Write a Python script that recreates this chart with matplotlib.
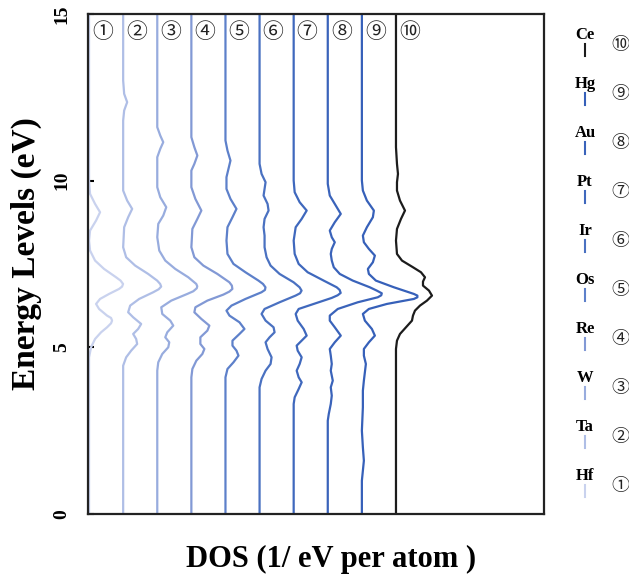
import matplotlib.pyplot as plt
from matplotlib.lines import Line2D

# metals, bottom-left curve first
elements = ['Hf', 'Ta', 'W', 'Re', 'Os', 'Ir', 'Pt', 'Au', 'Hg', 'Ce']
tags = ['①', '②', '③', '④', '⑤', '⑥', '⑦', '⑧', '⑨', '⑩']
colors = ['#c9d2ee', '#afbee6', '#98acde', '#8299d5', '#5d80ca',
          '#4a71c1', '#3f68bd', '#3a63ba', '#3660b9', '#1c1c1c']

# energy (eV) and DOS for each metal
e_hf = [15, 10.0, 9.6, 9.3, 9.05, 8.8, 8.5, 8.2, 7.9, 7.6, 7.35, 7.1, 7.0, 6.9,
        6.82, 6.75, 6.6, 6.45, 6.3, 6.15, 5.95, 5.88, 5.8, 5.72, 5.6, 5.45,
        5.25, 5.0, 4.7, 0]
d_hf = [0, 0, 0.1, 0.6, 1.1, 0.7, 0.1, 0, 0.1, 0.6, 1.5, 2.7, 3.15, 3.4,
        3.3, 3.0, 2.0, 1.1, 0.7, 1.0, 1.8, 2.2, 2.3, 2.2, 1.8, 1.2,
        0.6, 0.2, 0, 0]

e_ta = [15, 13.0, 12.6, 12.35, 12.1, 11.8, 9.7, 9.4, 9.15, 8.9, 8.6, 8.0, 7.7,
        7.45, 7.2, 7.0, 6.9, 6.82, 6.74, 6.65, 6.45, 6.25, 6.05, 5.9, 5.7,
        5.55, 5.4, 5.25, 5.1, 4.9, 4.7, 4.45, 0]
d_ta = [0, 0, 0.1, 0.4, 0.1, 0, 0, 0.4, 0.9, 0.5, 0.1, 0, 0.3,
        1.2, 2.5, 3.4, 3.7, 3.8, 3.55, 3.0, 1.6, 0.7, 0.5, 1.0, 1.8,
        1.5, 1.0, 1.3, 1.4, 0.8, 0.3, 0, 0]

e_w = [15, 11.6, 11.35, 11.15, 10.95, 10.7, 9.8, 9.5, 9.2, 8.95, 8.7, 8.3, 7.9,
       7.6, 7.35, 7.1, 6.9, 6.83, 6.77, 6.68, 6.6, 6.4, 6.2, 6.0, 5.8, 5.65,
       5.45, 5.3, 5.15, 5.0, 4.8, 4.55, 4.3, 0]
d_w = [0, 0, 0.3, 0.6, 0.3, 0, 0, 0.3, 0.9, 0.6, 0.1, 0, 0.2,
       0.8, 1.8, 3.1, 3.9, 4.0, 3.95, 3.6, 3.0, 1.4, 0.4, 0.5, 1.3, 1.6,
       1.0, 0.8, 1.2, 1.1, 0.5, 0.1, 0, 0]

e_re = [15, 11.3, 11.0, 10.75, 10.5, 10.3, 9.8, 9.45, 9.1, 8.85, 8.55, 8.0,
        7.7, 7.45, 7.2, 6.95, 6.85, 6.75, 6.67, 6.58, 6.4, 6.2, 6.05, 5.85,
        5.65, 5.5, 5.3, 5.1, 4.95, 4.8, 4.6, 4.35, 4.1, 0]
d_re = [0, 0, 0.3, 0.6, 0.3, 0, 0, 0.4, 1.0, 0.6, 0.1, 0,
        0.3, 1.2, 2.6, 3.8, 4.05, 4.1, 3.8, 3.2, 1.6, 0.4, 0.3, 1.0,
        1.8, 1.6, 0.9, 0.9, 1.3, 1.1, 0.5, 0.1, 0, 0]

e_os = [15, 11.2, 10.9, 10.6, 10.35, 10.1, 9.75, 9.45, 9.15, 8.9, 8.6, 8.2,
        7.8, 7.5, 7.25, 7.0, 6.9, 6.8, 6.72, 6.65, 6.45, 6.25, 6.1, 5.95,
        5.75, 5.55, 5.4, 5.2, 5.05, 4.9, 4.75, 4.55, 4.35, 4.1, 0]
d_os = [0, 0, 0.2, 0.5, 0.3, 0.1, 0.1, 0.5, 1.1, 0.7, 0.2, 0.1,
        0.2, 0.8, 2.0, 3.3, 3.75, 4.0, 3.95, 3.6, 2.0, 0.6, 0.1, 0.4,
        1.4, 1.9, 1.4, 0.7, 0.7, 1.1, 1.3, 0.8, 0.2, 0, 0]

e_ir = [15, 10.5, 10.2, 9.95, 9.75, 9.55, 9.3, 9.1, 8.85, 8.6, 8.35, 8.0, 7.7,
        7.45, 7.2, 6.95, 6.8, 6.7, 6.62, 6.55, 6.35, 6.15, 6.0, 5.8, 5.6,
        5.45, 5.3, 5.15, 4.95, 4.7, 4.5, 4.3, 4.05, 3.8, 0]
d_ir = [0, 0, 0.2, 0.6, 0.5, 0.4, 0.8, 0.9, 0.5, 0.4, 0.5, 0.5, 0.7,
        1.1, 2.0, 3.4, 4.0, 4.2, 4.05, 3.6, 2.0, 0.5, 0.2, 0.6, 1.4,
        1.5, 1.0, 0.6, 0.8, 1.2, 1.1, 0.6, 0.2, 0, 0]

e_pt = [15, 10.0, 9.65, 9.35, 9.1, 8.85, 8.6, 8.2, 7.8, 7.5, 7.25, 7.0, 6.8,
        6.72, 6.63, 6.56, 6.48, 6.3, 6.15, 6.0, 5.8, 5.55, 5.35, 5.2, 5.05,
        4.9, 4.7, 4.5, 4.3, 4.1, 3.95, 3.75, 3.5, 3.3, 0]
d_pt = [0, 0, 0.1, 0.6, 1.3, 0.8, 0.2, 0, 0.1, 0.5, 1.4, 3.0, 4.3,
        4.6, 4.7, 4.4, 3.8, 2.0, 0.5, 0.2, 0.4, 1.0, 1.3, 0.8, 0.3,
        0.4, 0.8, 0.6, 0.3, 0.5, 0.8, 0.5, 0.1, 0, 0]

e_au = [15, 9.9, 9.55, 9.25, 9.0, 8.75, 8.5, 8.3, 8.15, 7.95, 7.8, 7.6, 7.4,
        7.2, 7.0, 6.8, 6.7, 6.62, 6.56, 6.5, 6.35, 6.15, 5.95, 5.8, 5.6,
        5.35, 5.15, 4.95, 4.75, 4.5, 4.3, 4.0, 3.8, 3.55, 3.3, 3.0, 2.8, 0]
d_au = [0, 0, 0.2, 0.8, 1.3, 0.7, 0.2, 0.4, 0.7, 0.4, 0.3, 0.4, 0.6,
        1.2, 2.5, 4.2, 4.9, 5.4, 5.35, 5.0, 3.0, 1.0, 0.2, 0.2, 0.7,
        1.3, 0.7, 0.2, 0.3, 0.4, 0.3, 0.5, 0.3, 0.4, 0.3, 0.1, 0, 0]

e_hg = [15, 10.0, 9.7, 9.4, 9.1, 8.9, 8.6, 8.35, 8.15, 7.95, 7.75, 7.55, 7.35,
        7.2, 7.0, 6.8, 6.6, 6.55, 6.5, 6.45, 6.3, 6.15, 6.0, 5.8, 5.55,
        5.35, 5.15, 4.95, 4.75, 4.5, 4.25, 4.0, 3.7, 3.2, 2.5, 2.0, 1.6,
        1.3, 1.0, 0]
d_hg = [0, 0, 0.1, 0.5, 1.2, 1.1, 0.5, 0.1, 0.2, 0.7, 1.3, 1.1, 0.6,
        0.7, 1.4, 3.2, 5.2, 5.55, 5.55, 5.2, 2.5, 0.7, 0.1, 0.3, 1.0,
        1.3, 0.7, 0.2, 0.2, 0.4, 0.3, 0.2, 0.1, 0.1, 0, 0.1, 0.2,
        0.1, 0, 0]

e_ce = [15, 11.0, 10.5, 10.2, 9.95, 9.7, 9.4, 9.1, 8.85, 8.55, 8.2, 7.8, 7.6,
        7.4, 7.25, 7.1, 6.97, 6.85, 6.7, 6.55, 6.4, 6.25, 6.1, 5.95, 5.8,
        5.6, 5.4, 5.2, 4.95, 0]
d_ce = [0, 0, 0.1, 0.2, 0.1, 0.1, 0.4, 0.9, 0.5, 0.1, 0, 0.1, 0.6,
        1.7, 2.5, 2.9, 2.7, 2.7, 3.3, 3.6, 3.1, 2.4, 1.9, 1.7, 1.6,
        1.0, 0.4, 0.1, 0, 0]

energies = [e_hf, e_ta, e_w, e_re, e_os, e_ir, e_pt, e_au, e_hg, e_ce]
doses = [d_hf, d_ta, d_w, d_re, d_os, d_ir, d_pt, d_au, d_hg, d_ce]
shift = 3.41  # horizontal offset between neighbouring curves

serif = 'Liberation Serif'
cjk = ['Noto Sans CJK JP', 'DejaVu Sans']

fig = plt.figure(figsize=(6.29, 5.75), dpi=100)
ax = fig.add_axes([0.140, 0.106, 0.725, 0.870])

for i in range(len(elements)):
    x = [v + i * shift for v in doses[i]]
    ax.plot(x, energies[i], color=colors[i], lw=1.6, solid_joinstyle='round')
    ax.text(i * shift + 1.35, 14.45, tags[i], family=cjk, fontsize=15,
            ha='center', va='center', color='#222222')

ax.set_xlim(-0.1, 45.5)
ax.set_ylim(0, 15)
ax.set_xticks([])
ax.set_yticks([0, 5, 10, 15])
ax.tick_params(axis='y', direction='in', length=4, width=1.5, pad=13,
               labelrotation=90, labelsize=14)
for lab in ax.get_yticklabels():
    lab.set_fontfamily(serif)
    lab.set_fontweight('bold')
    lab.set_va('center')
for s in ax.spines.values():
    s.set_linewidth(1.6)
    s.set_color('#222222')

ax.set_ylabel('Energy Levels (eV)', family=serif, fontweight='bold',
              fontsize=24)
ax.yaxis.set_label_coords(-0.102, 0.52)
ax.set_xlabel('DOS (1/ eV per atom )', family=serif, fontweight='bold',
              fontsize=22)
ax.xaxis.set_label_coords(0.533, -0.062)

# side key: name, short colour stroke, circled index (Ce on top)
W, H = 629.0, 575.0
for k in range(len(elements)):
    i = len(elements) - 1 - k
    y = 35 + 49.0 * k
    fig.text(585 / W, 1 - y / H, elements[i], family=serif, fontweight='bold',
             fontsize=12, ha='center', va='center')
    fig.add_artist(Line2D([585 / W, 585 / W],
                          [1 - (y + 9) / H, 1 - (y + 21) / H],
                          transform=fig.transFigure, color=colors[i], lw=1.5))
    fig.text(620 / W, 1 - (y + 10) / H, tags[i], family=cjk, fontsize=13,
             ha='center', va='center', color='#222222')

fig.savefig('out.png', dpi=100)
